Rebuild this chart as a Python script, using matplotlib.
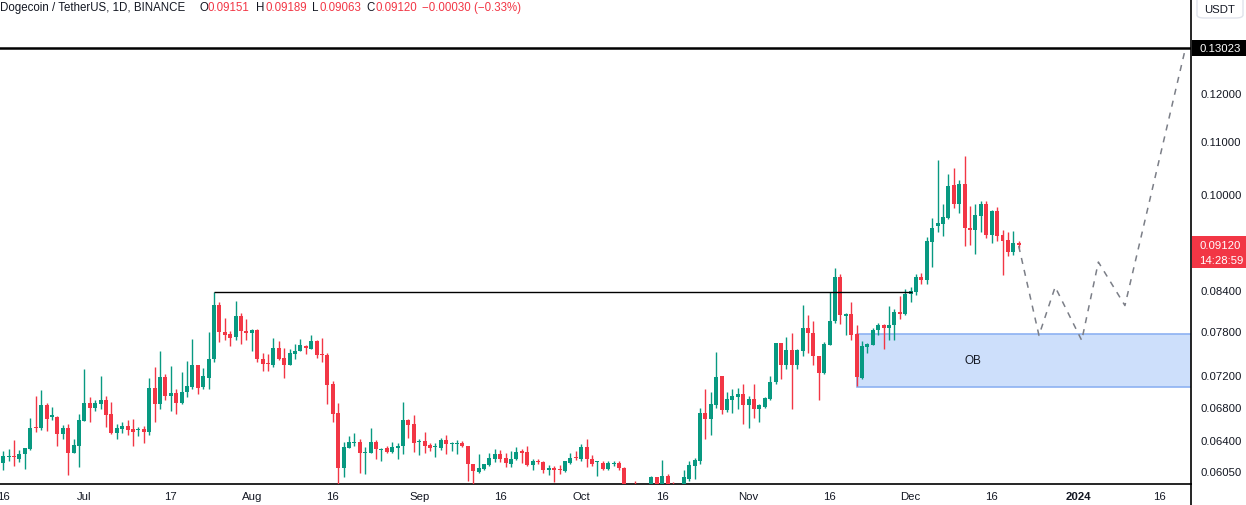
import numpy as np
import pandas as pd
import matplotlib
matplotlib.use("Agg")
import matplotlib.pyplot as plt
import matplotlib.dates as mdates
from matplotlib.patches import Rectangle, FancyBboxPatch
from matplotlib.ticker import FixedLocator, FixedFormatter, NullLocator

# ---------------- data (DOGE/USDT daily, from 2023-06-16) ----------------
start_date = "2023-06-16"
opens = [0.0614,0.0621,0.0622,0.0619,0.0624,0.0630,0.0655,0.0654,0.0682,0.0668,
         0.0668,0.0647,0.0655,0.0626,0.0634,0.0663,0.0685,0.0679,0.0684,0.0688,
         0.0671,0.0648,0.0653,0.0657,0.0653,0.0652,0.0653,0.0650,0.0703,0.0684,
         0.0718,0.0694,0.0697,0.0685,0.0698,0.0705,0.0733,0.0705,0.0716,0.0741,
         0.0818,0.0779,0.0776,0.0772,0.0801,0.0780,0.0777,0.0782,0.0742,0.0736,
         0.0734,0.0756,0.0743,0.0734,0.0748,0.0753,0.0758,0.0755,0.0766,0.0748,
         0.0747,0.0709,0.0672,0.0609,0.0631,0.0637,0.0638,0.0625,0.0625,0.0638,
         0.0629,0.0631,0.0627,0.0631,0.0634,0.0664,0.0659,0.0638,0.0639,0.0635,
         0.0632,0.0631,0.0640,0.0636,0.0636,0.0637,0.0633,0.0613,0.0604,0.0608,
         0.0612,0.0619,0.0624,0.0620,0.0613,0.0619,0.0627,0.0627,0.0612,0.0616,
         0.0615,0.0606,0.0609,0.0607,0.0605,0.0614,0.0621,0.0619,0.0632,0.0619,
         0.0615,0.0614,0.0608,0.0613,0.0614,0.0609,0.0585,0.0588,0.0583,0.0580,
         0.0586,0.0599,0.0588,0.0600,0.0589,0.0586,0.0588,0.0597,0.0611,0.0616,
         0.0673,0.0665,0.0682,0.0719,0.0676,0.0688,0.0692,0.0696,0.0682,0.0690,
         0.0677,0.0680,0.0690,0.0711,0.0763,0.0733,0.0754,0.0734,0.0753,0.0784,
         0.0778,0.0745,0.0723,0.0761,0.0794,0.0860,0.0801,0.0805,0.0776,0.0716,
         0.0758,0.0761,0.0781,0.0788,0.0785,0.0789,0.0808,0.0804,0.0834,0.0838,
         0.0861,0.0856,0.0917,0.0943,0.0947,0.0957,0.1016,0.0982,0.1018,0.0940,
         0.0936,0.0961,0.0982,0.0928,0.0970,0.0928,0.0920,0.0901,0.09151]
highs = [0.0628,0.0630,0.0640,0.0629,0.0631,0.0667,0.0694,0.0701,0.0685,0.0680,
         0.0669,0.0658,0.0659,0.0642,0.0671,0.0728,0.0692,0.0688,0.0719,0.0694,
         0.0686,0.0659,0.0661,0.0664,0.0665,0.0656,0.0657,0.0716,0.0731,0.0752,
         0.0722,0.0732,0.0702,0.0724,0.0739,0.0769,0.0733,0.0730,0.0779,0.0837,
         0.0822,0.0799,0.0780,0.0824,0.0806,0.0797,0.0783,0.0783,0.0750,0.0748,
         0.0771,0.0766,0.0756,0.0755,0.0762,0.0769,0.0761,0.0775,0.0768,0.0771,
         0.0750,0.0713,0.0685,0.0638,0.0645,0.0648,0.0641,0.0632,0.0654,0.0640,
         0.0631,0.0633,0.0638,0.0637,0.0686,0.0665,0.0670,0.0642,0.0650,0.0637,
         0.0637,0.0643,0.0646,0.0638,0.0640,0.0639,0.0634,0.0613,0.0624,0.0613,
         0.0625,0.0630,0.0629,0.0625,0.0628,0.0632,0.0630,0.0634,0.0619,0.0619,
         0.0617,0.0612,0.0611,0.0612,0.0617,0.0625,0.0628,0.0636,0.0642,0.0623,
         0.0617,0.0617,0.0617,0.0617,0.0617,0.0610,0.0590,0.0594,0.0589,0.0588,
         0.0600,0.0599,0.0618,0.0602,0.0593,0.0591,0.0606,0.0617,0.0620,0.0678,
         0.0702,0.0698,0.0751,0.0719,0.0698,0.0702,0.0703,0.0709,0.0694,0.0709,
         0.0683,0.0692,0.0719,0.0764,0.0763,0.0772,0.0778,0.0755,0.0818,0.0803,
         0.0795,0.0746,0.0765,0.0838,0.0875,0.0865,0.0806,0.0822,0.0788,0.0766,
         0.0763,0.0785,0.0791,0.0790,0.0817,0.0812,0.0832,0.0842,0.0845,0.0865,
         0.0866,0.0925,0.0957,0.1064,0.0982,0.1037,0.1049,0.1026,0.1072,0.0979,
         0.0982,0.0988,0.0988,0.0972,0.0977,0.0937,0.0933,0.0935,0.09189]
lows = [0.0607,0.0617,0.0611,0.0615,0.0608,0.0629,0.0650,0.0652,0.0651,0.0664,
        0.0634,0.0642,0.0601,0.0626,0.0610,0.0663,0.0662,0.0675,0.0677,0.0656,
        0.0647,0.0642,0.0648,0.0646,0.0634,0.0645,0.0637,0.0646,0.0662,0.0677,
        0.0689,0.0675,0.0671,0.0683,0.0692,0.0702,0.0696,0.0702,0.0702,0.0738,
        0.0765,0.0767,0.0759,0.0768,0.0762,0.0768,0.0752,0.0738,0.0726,0.0725,
        0.0731,0.0740,0.0717,0.0733,0.0742,0.0752,0.0748,0.0755,0.0743,0.0738,
        0.0684,0.0661,0.0565,0.0599,0.0631,0.0633,0.0603,0.0602,0.0625,0.0619,
        0.0617,0.0626,0.0626,0.0619,0.0624,0.0643,0.0627,0.0623,0.0626,0.0628,
        0.0621,0.0629,0.0624,0.0628,0.0624,0.0632,0.0594,0.0588,0.0603,0.0606,
        0.0611,0.0615,0.0615,0.0610,0.0610,0.0618,0.0614,0.0611,0.0606,0.0613,
        0.0603,0.0601,0.0593,0.0602,0.0604,0.0613,0.0618,0.0617,0.0610,0.0611,
        0.0600,0.0607,0.0607,0.0611,0.0606,0.0580,0.0578,0.0575,0.0577,0.0576,
        0.0583,0.0585,0.0584,0.0584,0.0582,0.0580,0.0585,0.0594,0.0597,0.0613,
        0.0642,0.0646,0.0678,0.0671,0.0674,0.0673,0.0677,0.0659,0.0655,0.0666,
        0.0662,0.0679,0.0688,0.0709,0.0715,0.0728,0.0677,0.0728,0.0745,0.0750,
        0.0734,0.0689,0.0722,0.0760,0.0791,0.0790,0.0774,0.0767,0.0706,0.0715,
        0.0750,0.0760,0.0775,0.0755,0.0768,0.0767,0.0797,0.0803,0.0823,0.0833,
        0.0850,0.0849,0.0876,0.0934,0.0927,0.0956,0.0975,0.0966,0.0910,0.0911,
        0.0897,0.0933,0.0923,0.0915,0.0919,0.0863,0.0893,0.0895,0.09063]
closes = [0.0622,0.0622,0.0621,0.0624,0.0631,0.0655,0.0654,0.0682,0.0665,0.0669,
          0.0647,0.0655,0.0625,0.0635,0.0664,0.0685,0.0679,0.0685,0.0689,0.0670,
          0.0648,0.0654,0.0657,0.0652,0.0650,0.0653,0.0650,0.0703,0.0684,0.0718,
          0.0694,0.0697,0.0685,0.0698,0.0706,0.0733,0.0703,0.0719,0.0742,0.0818,
          0.0779,0.0775,0.0771,0.0801,0.0780,0.0777,0.0782,0.0741,0.0735,0.0735,
          0.0756,0.0742,0.0734,0.0750,0.0753,0.0760,0.0757,0.0766,0.0747,0.0747,
          0.0708,0.0671,0.0609,0.0632,0.0638,0.0638,0.0625,0.0626,0.0638,0.0630,
          0.0630,0.0627,0.0632,0.0634,0.0664,0.0658,0.0637,0.0639,0.0634,0.0631,
          0.0633,0.0640,0.0636,0.0637,0.0637,0.0633,0.0613,0.0605,0.0609,0.0613,
          0.0620,0.0624,0.0619,0.0614,0.0619,0.0627,0.0626,0.0612,0.0616,0.0615,
          0.0606,0.0609,0.0606,0.0606,0.0616,0.0620,0.0620,0.0632,0.0619,0.0613,
          0.0616,0.0608,0.0614,0.0614,0.0609,0.0585,0.0582,0.0583,0.0580,0.0586,
          0.0599,0.0588,0.0600,0.0588,0.0586,0.0588,0.0599,0.0612,0.0618,0.0673,
          0.0665,0.0684,0.0718,0.0676,0.0690,0.0694,0.0696,0.0682,0.0690,0.0677,
          0.0682,0.0691,0.0711,0.0763,0.0733,0.0754,0.0734,0.0754,0.0784,0.0777,
          0.0745,0.0723,0.0762,0.0794,0.0860,0.0803,0.0805,0.0774,0.0718,0.0759,
          0.0762,0.0781,0.0788,0.0785,0.0788,0.0808,0.0804,0.0834,0.0839,0.0861,
          0.0856,0.0919,0.0941,0.0949,0.0959,0.1015,0.0982,0.1018,0.0940,0.0936,
          0.0963,0.0982,0.0928,0.0970,0.0927,0.0919,0.0901,0.0915,0.09120]

# projected path (dashed)
proj_dates = ["2023-12-21 00:00", "2023-12-24 18:00", "2023-12-27 18:00",
              "2024-01-01 16:00", "2024-01-04 18:00", "2024-01-09 16:00",
              "2024-01-20 20:00"]
proj_prices = [0.0910, 0.0774, 0.0845, 0.0767, 0.0884, 0.0817, 0.1300]

target_level = 0.13023
resistance_level = 0.0837
resistance_span = ["2023-07-25 00:00", "2023-12-01 08:00"]
ob_top, ob_bottom = 0.07756, 0.07054
ob_start = "2023-11-21 00:00"
ob_label_date = "2023-12-12 14:00"
last_price = 0.09120

ytick_values = [0.0605, 0.064, 0.068, 0.072, 0.078, 0.084, 0.10, 0.11, 0.12]
ytick_labels = ["0.06050", "0.06400", "0.06800", "0.07200", "0.07800",
                "0.08400", "0.10000", "0.11000", "0.12000"]
xtick_dates = ["2023-06-16", "2023-07-01", "2023-07-17", "2023-08-01",
               "2023-08-16", "2023-09-01", "2023-09-16", "2023-10-01",
               "2023-10-16", "2023-11-01", "2023-11-16", "2023-12-01",
               "2023-12-16", "2024-01-01", "2024-01-16"]
xtick_labels = ["16", "Jul", "17", "Aug", "16", "Sep", "16", "Oct", "16",
                "Nov", "16", "Dec", "16", "2024", "16"]

# ---------------- styling ----------------
GREEN = "#089981"
RED = "#f23645"
TXT = "#131722"
FONT = "Liberation Sans"
plt.rcParams["font.family"] = [FONT, "DejaVu Sans"]


def dnum(seq):
    return mdates.date2num(pd.to_datetime(list(seq), format="mixed"))


W, H = 1246, 506
fig = plt.figure(figsize=(W / 100, H / 100), dpi=100)
fig.patch.set_facecolor("white")
ax_left, ax_right, ax_bot, ax_top = 0, 1191, 485, 0
ax = fig.add_axes([ax_left / W, (H - ax_bot) / H, (ax_right - ax_left) / W,
                   (ax_bot - ax_top) / H])
ax.set_facecolor("white")
ax.set_yscale("log")

dates = pd.date_range(start_date, periods=len(opens), freq="D")
xs = mdates.date2num(dates)
o = np.array(opens); h = np.array(highs); l = np.array(lows); c = np.array(closes)
up = c >= o
cols = np.where(up, GREEN, RED)

# wicks
ax.vlines(xs, l, h, colors=cols, linewidth=1.0, zorder=3)
# bodies
lo = np.minimum(o, c)
hi = np.maximum(o, c)
hi = np.maximum(hi, lo * 1.0022)
ax.bar(xs, hi - lo, bottom=lo, width=0.74, color=cols, linewidth=0, zorder=4)

x0 = dnum([start_date])[0]
ax.set_xlim(x0 - 0.61, x0 + 219.9)
ax.set_ylim(0.05913, 0.14237)

# target line
ax.axhline(target_level, color="black", linewidth=1.8, zorder=5)
# resistance line
rs = dnum(resistance_span)
ax.hlines(resistance_level, rs[0], rs[1], color="black", linewidth=1.0, zorder=5)

# order block
obx = dnum([ob_start])[0]
ax.add_patch(Rectangle((obx, ob_bottom), x0 + 240 - obx, ob_top - ob_bottom,
                       facecolor="#cddffb", edgecolor="#8db2f2", linewidth=1.2,
                       zorder=2))
ax.text(dnum([ob_label_date])[0], np.sqrt(ob_top * ob_bottom), "OB",
        ha="center", va="center", fontsize=8.5, color=TXT, zorder=6)

# projection
px = dnum(proj_dates)
ax.plot(px, proj_prices, linestyle=(0, (4, 4)), color="#7b7e87",
        linewidth=1.1, zorder=6)

# axes cosmetics
for s in ["top", "left"]:
    ax.spines[s].set_visible(False)
ax.spines["right"].set_color("black")
ax.spines["bottom"].set_color("black")
ax.spines["right"].set_linewidth(1.2)
ax.spines["bottom"].set_linewidth(1.2)

ax.yaxis.tick_right()
ax.yaxis.set_major_locator(FixedLocator(ytick_values))
ax.yaxis.set_major_formatter(FixedFormatter(ytick_labels))
ax.yaxis.set_minor_locator(NullLocator())
ax.tick_params(axis="y", length=0, pad=7, labelsize=8.2, labelcolor=TXT)

xt = dnum(xtick_dates)
ax.xaxis.set_major_locator(FixedLocator(xt))
ax.xaxis.set_major_formatter(FixedFormatter(xtick_labels))
ax.xaxis.set_minor_locator(NullLocator())
ax.tick_params(axis="x", length=0, pad=5, labelsize=8.2, labelcolor=TXT)
for lab in ax.get_xticklabels():
    if lab.get_text() == "2024":
        lab.set_fontweight("bold")

# right-axis extension line below the x axis
fig.add_artist(plt.Line2D([ax_right / W, ax_right / W], [0, (H - ax_bot) / H],
                          color="black", linewidth=1.2))

# price labels on right axis
ypix = ax.transData.transform((x0, target_level))[1]
yf = ypix / H
fig.add_artist(Rectangle(((ax_right + 1) / W, yf - 8 / H), (W - ax_right) / W,
                         16 / H, facecolor="black", edgecolor="none",
                         transform=fig.transFigure))
fig.text((ax_right + 8) / W, yf, "0.13023", color="white", fontsize=8.2,
         va="center", ha="left")
ypix_last = ax.transData.transform((x0, last_price))[1]
yl = ypix_last / H
fig.add_artist(Rectangle(((ax_right + 1) / W, yl - 23 / H), (W - ax_right) / W,
                         32 / H, facecolor=RED, edgecolor="none",
                         transform=fig.transFigure))
fig.text((ax_right + 8) / W, yl, "0.09120", color="white", fontsize=8.2,
         va="center", ha="left")
fig.text((ax_right + 8) / W, yl - 15 / H, "14:28:59", color="white",
         fontsize=8.2, va="center", ha="left")

# USDT box
fig.add_artist(FancyBboxPatch(((ax_right + 6) / W, (H - 19) / H), 46 / W, 24 / H,
                              boxstyle="round,pad=0,rounding_size=0.006",
                              facecolor="white", edgecolor="#e0e3eb",
                              linewidth=1, transform=fig.transFigure))
fig.text((ax_right + 29) / W, (H - 10) / H, "USDT", color=TXT, fontsize=8.2,
         ha="center", va="center")

# header
hy = (H - 8) / H
fig.text(0 / W, hy, "Dogecoin / TetherUS, 1D, BINANCE", color=TXT, fontsize=8.3,
         ha="left", va="center")
pieces = [("O", 199, TXT), ("0.09151", 208, RED), ("H", 256, TXT),
          ("0.09189", 265, RED), ("L", 312, TXT), ("0.09063", 319, RED),
          ("C", 366, TXT), ("0.09120", 375, RED),
          ("\u22120.00030 (\u22120.33%)", 422, RED)]
for t, xp, col in pieces:
    fig.text(xp / W, hy, t, color=col, fontsize=8.3, ha="left", va="center")

fig.savefig("out.png", dpi=100, facecolor="white")
